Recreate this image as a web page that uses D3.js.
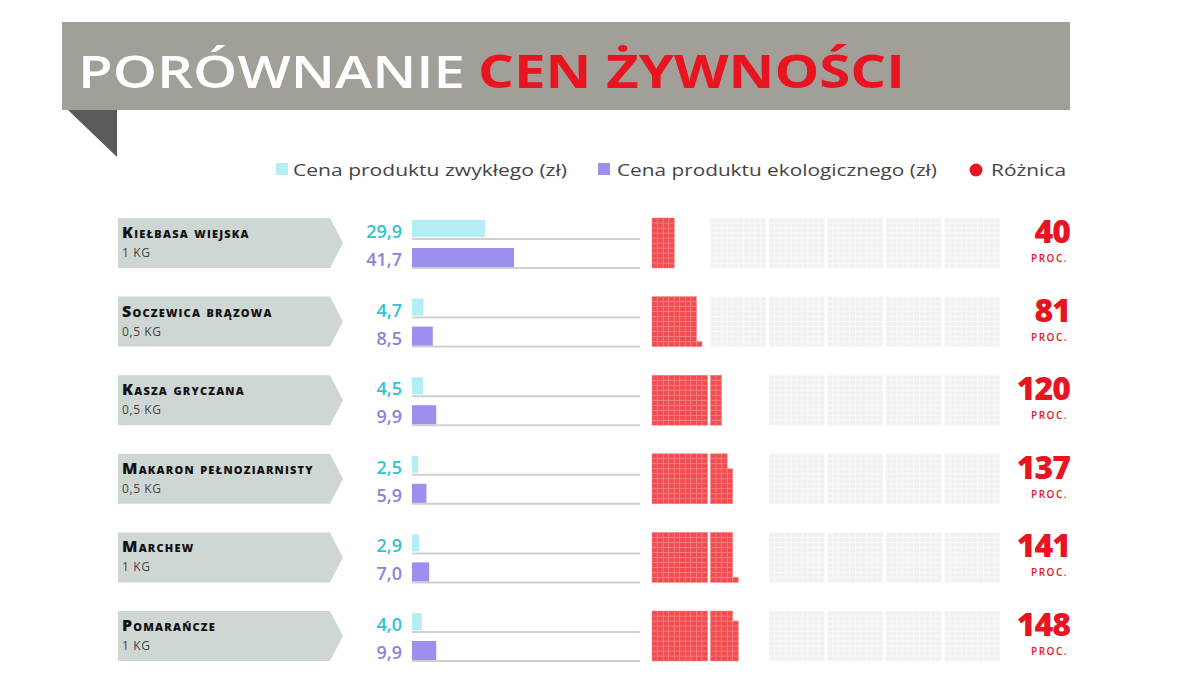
<!DOCTYPE html>
<html><head><meta charset="utf-8">
<script src="https://cdn.jsdelivr.net/npm/d3@7"></script>
<style>
html,body{margin:0;padding:0;background:#fff;}
svg{display:block;}
text{font-family:"Open Sans","Noto Sans",sans-serif;}
</style></head>
<body>
<svg id="c" width="1200" height="680"></svg>
<script>
const products = ["Kiełbasa wiejska", "Soczewica brązowa", "Kasza gryczana", "Makaron pełnoziarnisty", "Marchew", "Pomarańcze"];
const units = ["1 kg", "0,5 kg", "0,5 kg", "0,5 kg", "1 kg", "1 kg"];
const regularPrice = [29.9, 4.7, 4.5, 2.5, 2.9, 4.0];
const ecoPrice = [41.7, 8.5, 9.9, 5.9, 7.0, 9.9];
const diffPct = [40, 81, 120, 137, 141, 148];
const legendLabels = ["Cena produktu zwykłego (zł)", "Cena produktu ekologicznego (zł)", "Różnica"];
const titleWhite = "PORÓWNANIE";
const titleRed = "CEN ŻYWNOŚCI";

const C = {banner:"#a29f99", flap:"#5b5a58", red:"#e8141f", cyan:"#b2eef4", cyanText:"#2fc2d4",
  purple:"#9b8ff0", purpleText:"#8c82d8", label:"#cfd7d5", line:"#d0d0d0", waffleRed:"#f24c50", waffleGrey:"#f1f1f1"};

const svg = d3.select("#c");
const fmt = v => d3.format(".1f")(v).replace(".", ",");

// Title banner
svg.append("rect").attr("x",62).attr("y",22).attr("width",1008).attr("height",88).attr("fill",C.banner);
svg.append("path").attr("d","M68,110 L117,110 L117,157 Z").attr("fill",C.flap);
const t = svg.append("text").attr("y",88).attr("font-size",46).attr("font-weight",700);
t.append("tspan").attr("x",78).attr("fill","#fff").attr("font-weight",600).attr("textLength",387).attr("lengthAdjust","spacingAndGlyphs").text(titleWhite);
t.append("tspan").attr("x",478).attr("fill",C.red).attr("textLength",427).attr("lengthAdjust","spacingAndGlyphs").text(titleRed);

// Legend
const lg = svg.append("g").attr("font-size",17).attr("fill","#444");
lg.append("rect").attr("x",276).attr("y",163).attr("width",12).attr("height",12).attr("fill",C.cyan);
lg.append("text").attr("x",293).attr("y",176).attr("textLength",274).attr("lengthAdjust","spacingAndGlyphs").text(legendLabels[0]);
lg.append("rect").attr("x",598).attr("y",163).attr("width",12).attr("height",12).attr("fill",C.purple);
lg.append("text").attr("x",617).attr("y",176).attr("textLength",320).attr("lengthAdjust","spacingAndGlyphs").text(legendLabels[1]);
lg.append("circle").attr("cx",976).attr("cy",170).attr("r",6.5).attr("fill",C.red);
lg.append("text").attr("x",991).attr("y",176).attr("textLength",75).attr("lengthAdjust","spacingAndGlyphs").text(legendLabels[2]);

// Scales
const rowY = d3.scaleLinear().domain([0,5]).range([218,611]);
const rowH = 50;
const xBar = d3.scaleLinear().domain([0,41.7]).range([412,514]);
const blocks = d3.range(6);
const xBlock = d3.scaleBand().domain(blocks).range([652,1000]).paddingInner(0.05);
const colBand = d3.scaleBand().domain(d3.range(10)).range([0, xBlock.bandwidth()]);

products.forEach((p,i)=>{
  const y0 = rowY(i);
  const g = svg.append("g");
  // label box with arrow
  g.append("path").attr("d",`M118,${y0} L330,${y0} L343,${y0+rowH/2} L330,${y0+rowH} L118,${y0+rowH} Z`).attr("fill",C.label);
  g.append("text").attr("x",122).attr("y",y0+20).attr("font-size",16).attr("font-weight",800).attr("letter-spacing",1.2)
    .attr("font-variant","small-caps").attr("fill","#111").text(p);
  g.append("text").attr("x",122).attr("y",y0+39).attr("font-size",12).attr("letter-spacing",0.6).attr("fill","#444").text(units[i].toUpperCase());

  // bars
  g.append("line").attr("x1",xBar(0)).attr("x2",640).attr("y1",y0+21).attr("y2",y0+21).attr("stroke",C.line).attr("stroke-width",2);
  g.append("line").attr("x1",xBar(0)).attr("x2",640).attr("y1",y0+50).attr("y2",y0+50).attr("stroke",C.line).attr("stroke-width",2);
  g.append("rect").attr("x",xBar(0)).attr("y",y0+2).attr("width",xBar(regularPrice[i])-xBar(0)).attr("height",17).attr("fill",C.cyan);
  g.append("rect").attr("x",xBar(0)).attr("y",y0+30).attr("width",xBar(ecoPrice[i])-xBar(0)).attr("height",19).attr("fill",C.purple);
  g.append("text").attr("x",xBar(0)-10).attr("y",y0+20).attr("text-anchor","end").attr("font-size",18).attr("font-weight",600)
    .attr("fill",C.cyanText).text(fmt(regularPrice[i]));
  g.append("text").attr("x",xBar(0)-10).attr("y",y0+48).attr("text-anchor","end").attr("font-size",18).attr("font-weight",600)
    .attr("fill",C.purpleText).text(fmt(ecoPrice[i]));

  // waffle
  const rowBand = d3.scaleBand().domain(d3.range(10)).range([y0+rowH, y0]);
  const redCells = d3.range(diffPct[i]).map(k=>({b:Math.floor(k/100), c:Math.floor((k%100)/10), r:k%10}));
  const firstGrey = Math.ceil(diffPct[i]/100);
  const greyCells = [];
  blocks.filter(b=>b>=firstGrey).forEach(b=>d3.range(100).forEach(k=>greyCells.push({b, c:Math.floor(k/10), r:k%10})));
  g.selectAll(".grey").data(greyCells).join("rect")
    .attr("x",d=>xBlock(d.b)+colBand(d.c)).attr("y",d=>rowBand(d.r))
    .attr("width",colBand.bandwidth()).attr("height",rowBand.bandwidth())
    .attr("fill",C.waffleGrey).attr("stroke","#fafafa").attr("stroke-width",0.6);
  g.selectAll(".red").data(redCells).join("rect")
    .attr("x",d=>xBlock(d.b)+colBand(d.c)).attr("y",d=>rowBand(d.r))
    .attr("width",colBand.bandwidth()).attr("height",rowBand.bandwidth())
    .attr("fill",C.waffleRed).attr("stroke","#f7898b").attr("stroke-width",0.5);

  // percent
  g.append("text").attr("x",1070).attr("y",y0+25).attr("text-anchor","end").attr("font-size",32).attr("font-weight",800)
    .attr("fill",C.red).attr("letter-spacing",-1).text(diffPct[i]);
  g.append("text").attr("x",1068).attr("y",y0+44).attr("text-anchor","end").attr("font-size",10).attr("font-weight",600)
    .attr("letter-spacing",1.5).attr("fill",C.red).text("PROC.");
});
</script>
</body></html>
